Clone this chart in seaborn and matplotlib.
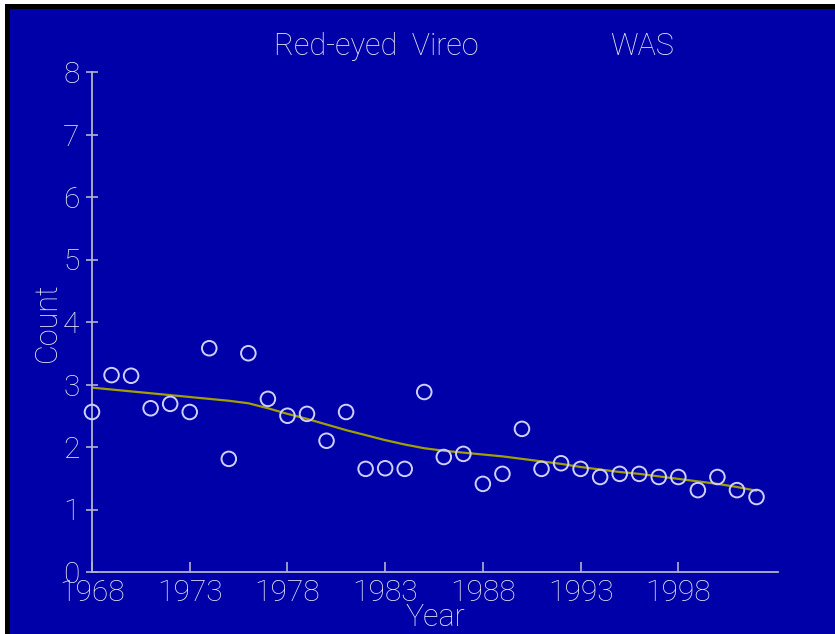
import numpy as np
import matplotlib
matplotlib.use("Agg")
import matplotlib.pyplot as plt
import pandas as pd
import seaborn as sns
from matplotlib.patches import Rectangle

sns.set_theme(style="white")
plt.rcParams['font.family'] = ['Roboto', 'Roboto Condensed', 'DejaVu Sans']
plt.rcParams['font.weight'] = 'light'
plt.rcParams['axes.labelweight'] = 'light'

bg = '#0000A8'
fg = '#ECECF4'
axis_col = '#B4B4CC'

years = list(range(1968, 2003))
counts = [2.56, 3.15, 3.14, 2.62, 2.69, 2.56, 3.58, 1.81, 3.50, 2.77,
          2.50, 2.53, 2.10, 2.56, 1.65, 1.66, 1.65, 2.88, 1.84, 1.89,
          1.41, 1.57, 2.29, 1.65, 1.74, 1.65, 1.52, 1.57, 1.57, 1.52,
          1.52, 1.31, 1.52, 1.31, 1.20]
trend = [2.95, 2.92, 2.89, 2.86, 2.83, 2.80, 2.77, 2.74, 2.70, 2.62,
         2.53, 2.45, 2.36, 2.27, 2.19, 2.11, 2.04, 1.98, 1.94, 1.91,
         1.88, 1.85, 1.81, 1.77, 1.73, 1.68, 1.64, 1.60, 1.57, 1.53,
         1.49, 1.45, 1.41, 1.36, 1.30]
xticks = [1968, 1973, 1978, 1983, 1988, 1993, 1998]
yticks = [0, 1, 2, 3, 4, 5, 6, 7, 8]

df = pd.DataFrame({'Year': years, 'Count': counts, 'Trend': trend})

fig = plt.figure(figsize=(8.35, 6.34), dpi=100, facecolor=bg)
ax = fig.add_axes([92 / 835, 62 / 634, 686 / 835, 500 / 634])
ax.set_facecolor(bg)

# screenshot frame: white then black strip on top and left
fig.patches.append(Rectangle((0, 1 - 4 / 634), 1, 4 / 634, transform=fig.transFigure,
                             facecolor='white', edgecolor='none', zorder=0))
fig.patches.append(Rectangle((0, 1 - 9 / 634), 1, 5 / 634, transform=fig.transFigure,
                             facecolor='black', edgecolor='none', zorder=0))
fig.patches.append(Rectangle((0, 0), 5 / 835, 1, transform=fig.transFigure,
                             facecolor='white', edgecolor='none', zorder=0))
fig.patches.append(Rectangle((5 / 835, 0), 5 / 835, 1 - 4 / 634, transform=fig.transFigure,
                             facecolor='black', edgecolor='none', zorder=0))

sns.lineplot(data=df, x='Year', y='Trend', ax=ax, color='#A0A000', linewidth=1.6)
sns.scatterplot(data=df, x='Year', y='Count', ax=ax, marker='o', s=110,
                facecolor='none', edgecolor='#D0D0FF', linewidth=1.4, zorder=3,
                clip_on=False)

ax.set_xlim(1968, 2003.1)
ax.set_ylim(0, 8)
ax.set_xticks(xticks)
ax.set_xticklabels([str(t) for t in xticks])
ax.set_yticks(yticks)
ax.set_yticklabels([str(t) for t in yticks])

for side in ['top', 'right']:
    ax.spines[side].set_visible(False)
for side in ['left', 'bottom']:
    ax.spines[side].set_color(axis_col)
    ax.spines[side].set_linewidth(1.3)

ax.tick_params(axis='x', direction='in', length=7.5, width=1.2, color=axis_col,
               labelcolor=fg, labelsize=21.5, pad=5, bottom=True)
ax.tick_params(axis='y', direction='inout', length=8, width=1.2, color=axis_col,
               labelcolor=fg, labelsize=21.5, pad=5, left=True)

ax.set_xlabel('Year', color=fg, fontsize=22, labelpad=-3)
ax.set_ylabel('Count', color=fg, fontsize=22, labelpad=1)

fig.text(376 / 835, 1 - 55 / 634, 'Red-eyed  Vireo', color=fg, fontsize=22,
         ha='center', va='baseline')
fig.text(642 / 835, 1 - 55 / 634, 'WAS', color=fg, fontsize=22,
         ha='center', va='baseline')

fig.savefig('out.png', dpi=100, facecolor=bg)
